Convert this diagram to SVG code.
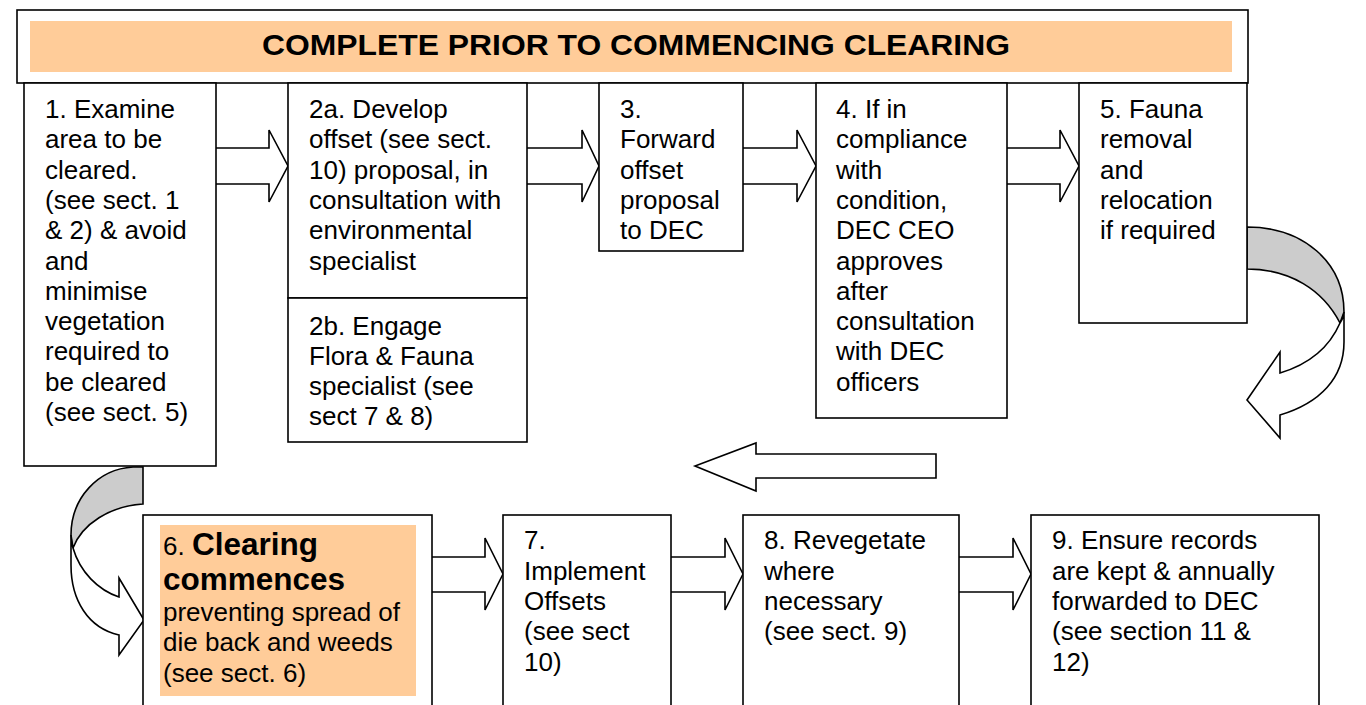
<svg xmlns="http://www.w3.org/2000/svg" width="1366" height="705" viewBox="0 0 1366 705">
<style>
.box{fill:#fff;stroke:#000;stroke-width:1.6}
.arr{fill:#fff;stroke:#000;stroke-width:1.6;stroke-linejoin:miter}
.back{fill:#ccc;stroke:#000;stroke-width:1.6}
.t{font-family:"Liberation Sans",Arial,sans-serif;font-size:26px;fill:#000}
.b{font-weight:bold;font-size:31.5px}
.h{font-family:"Liberation Sans",Arial,sans-serif;font-size:30px;font-weight:bold;fill:#000}
</style>
<rect width="1366" height="705" fill="#fff"/>
<g id="header">
<rect class="box" x="17" y="10" width="1231" height="73"/>
<rect x="30" y="21" width="1202" height="51" fill="#FFCC99"/>
<text class="h" x="636" y="55" text-anchor="middle" textLength="748" lengthAdjust="spacingAndGlyphs">COMPLETE PRIOR TO COMMENCING CLEARING</text>
</g>
<g id="connectors">
<path class="arr" d="M216,148 L269,148 L269,130 L288,166 L269,202 L269,184 L216,184"/>
<path class="arr" d="M527,148 L582,148 L582,130 L599,166 L582,202 L582,184 L527,184"/>
<path class="arr" d="M743,148 L797,148 L797,130 L816,166 L797,202 L797,184 L743,184"/>
<path class="arr" d="M1007,148 L1060,148 L1060,130 L1079,166 L1060,202 L1060,184 L1007,184"/>
<path class="arr" d="M432,557 L485,557 L485,538 L503,574 L485,610 L485,592 L432,592"/>
<path class="arr" d="M671,557 L725,557 L725,538 L743,574 L725,610 L725,592 L671,592"/>
<path class="arr" d="M959,557 L1013,557 L1013,538 L1031,574 L1013,610 L1013,592 L959,592"/>
<path class="arr" d="M936,454 L756,454 L756,443 L695,466 L756,491 L756,478 L936,478 Z"/>
<path class="back" d="M1247,227 C1303,227 1344,262 1344,312 L1340,323 C1323,290 1290,269 1247,269 Z"/>
<path class="arr" d="M1340,323 C1330,346 1310,364 1280,373 L1280,352 L1247,400 L1280,438 L1280,415 C1320,403 1344,378 1344,342 L1344,312 C1344,316 1342,320 1340,323 Z"/>
<path class="back" d="M133,467 L143,467 L143,504 C110,506 82,524 73,548 L71,535 C71,498 98,469 133,467 Z"/>
<path class="arr" d="M73,548 C80,572 98,590 119,597 L119,578 L144,620 L119,655 L119,635 C88,628 71,600 71,565 L71,535 C71,540 72,544 73,548 Z"/>
</g>
<g id="n1">
<rect class="box" x="24" y="83" width="192" height="383"/>
<text class="t"><tspan x="45" y="118">1. Examine</tspan><tspan x="45" y="148">area to be</tspan><tspan x="45" y="179">cleared.</tspan><tspan x="45" y="209">(see sect. 1</tspan><tspan x="45" y="239">&amp; 2) &amp; avoid</tspan><tspan x="45" y="270">and</tspan><tspan x="45" y="300">minimise</tspan><tspan x="45" y="330">vegetation</tspan><tspan x="45" y="360">required to</tspan><tspan x="45" y="391">be cleared</tspan><tspan x="45" y="421">(see sect. 5)</tspan></text>
</g>
<g id="n2a">
<rect class="box" x="288" y="83" width="239" height="215"/>
<text class="t"><tspan x="309" y="118">2a. Develop</tspan><tspan x="309" y="148">offset (see sect.</tspan><tspan x="309" y="179">10) proposal, in</tspan><tspan x="309" y="209">consultation with</tspan><tspan x="309" y="239">environmental</tspan><tspan x="309" y="270">specialist</tspan></text>
</g>
<g id="n2b">
<rect class="box" x="288" y="298" width="239" height="144"/>
<text class="t"><tspan x="309" y="335">2b. Engage</tspan><tspan x="309" y="365">Flora &amp; Fauna</tspan><tspan x="309" y="395">specialist (see</tspan><tspan x="309" y="425">sect 7 &amp; 8)</tspan></text>
</g>
<g id="n3">
<rect class="box" x="599" y="83" width="144" height="168"/>
<text class="t"><tspan x="620" y="118">3.</tspan><tspan x="620" y="148">Forward</tspan><tspan x="620" y="179">offset</tspan><tspan x="620" y="209">proposal</tspan><tspan x="620" y="239">to DEC</tspan></text>
</g>
<g id="n4">
<rect class="box" x="816" y="83" width="191" height="335"/>
<text class="t"><tspan x="836" y="118">4. If in</tspan><tspan x="836" y="148">compliance</tspan><tspan x="836" y="179">with</tspan><tspan x="836" y="209">condition,</tspan><tspan x="836" y="239">DEC CEO</tspan><tspan x="836" y="270">approves</tspan><tspan x="836" y="300">after</tspan><tspan x="836" y="330">consultation</tspan><tspan x="836" y="360">with DEC</tspan><tspan x="836" y="391">officers</tspan></text>
</g>
<g id="n5">
<rect class="box" x="1079" y="83" width="168" height="240"/>
<text class="t"><tspan x="1100" y="118">5. Fauna</tspan><tspan x="1100" y="148">removal</tspan><tspan x="1100" y="179">and</tspan><tspan x="1100" y="209">relocation</tspan><tspan x="1100" y="239">if required</tspan></text>
</g>
<g id="n6">
<rect class="box" x="143" y="515" width="289" height="205"/>
<rect x="160" y="525" width="256" height="171" fill="#FFCC99"/>
<text class="t"><tspan x="163" y="555">6. </tspan><tspan class="b">Clearing</tspan><tspan class="b" x="163" y="590">commences</tspan><tspan x="163" y="621">preventing spread of</tspan><tspan x="163" y="651">die back and weeds</tspan><tspan x="163" y="682">(see sect. 6)</tspan></text>
</g>
<g id="n7">
<rect class="box" x="503" y="515" width="168" height="205"/>
<text class="t"><tspan x="524" y="549">7.</tspan><tspan x="524" y="580">Implement</tspan><tspan x="524" y="610">Offsets</tspan><tspan x="524" y="640">(see sect</tspan><tspan x="524" y="671">10)</tspan></text>
</g>
<g id="n8">
<rect class="box" x="743" y="515" width="216" height="205"/>
<text class="t"><tspan x="764" y="549">8. Revegetate</tspan><tspan x="764" y="580">where</tspan><tspan x="764" y="610">necessary</tspan><tspan x="764" y="640">(see sect. 9)</tspan></text>
</g>
<g id="n9">
<rect class="box" x="1031" y="515" width="288" height="205"/>
<text class="t"><tspan x="1052" y="549">9. Ensure records</tspan><tspan x="1052" y="580">are kept &amp; annually</tspan><tspan x="1052" y="610">forwarded to DEC</tspan><tspan x="1052" y="640">(see section 11 &amp;</tspan><tspan x="1052" y="671">12)</tspan></text>
</g>
</svg>
